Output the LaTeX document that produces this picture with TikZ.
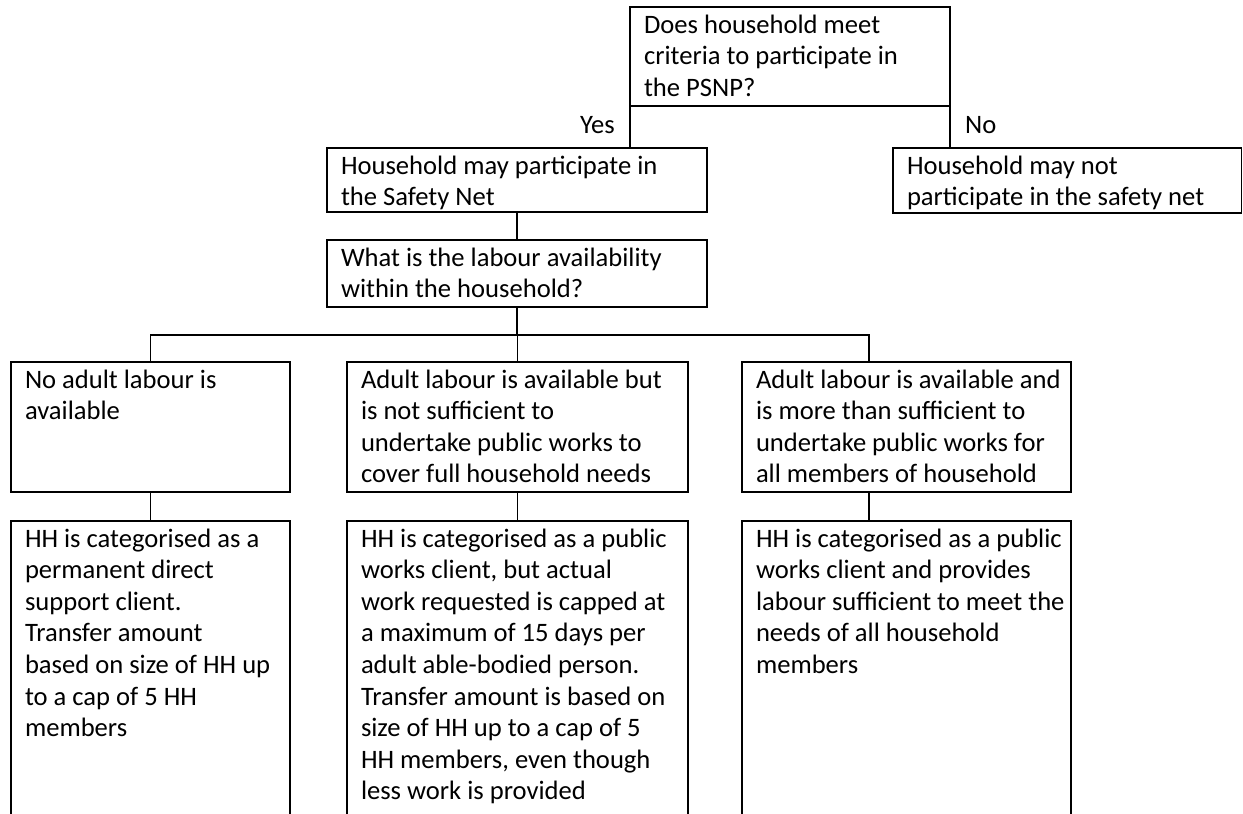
\documentclass[tikz,border=0pt]{standalone}
\usepackage{fontspec}
\setmainfont{Carlito}
\usetikzlibrary{calc}

% text block of a box: width after the left inset, height, lines
% (first baseline 26pt below the top)
\newcommand\celltext[3]{\hspace*{14pt}\parbox[b][#2][t]{#1}{\fontsize{26.6pt}{31.6pt}\selectfont\raggedright\rule{0pt}{26pt}#3}}

\tikzset{
  cell/.style={draw, line width=1.6pt, inner sep=0pt,
    outer sep=0pt, anchor=north west},
  link/.style={draw, line width=1.6pt},
  answer/.style={font=\fontsize{26.6pt}{31.6pt}\selectfont, inner sep=0pt}
}

\begin{document}
\begin{tikzpicture}[x=1pt, y=-1pt]
\clip (0,0) rectangle (1243,814);
\fill[white] (0,0) rectangle (1243,814);

% eligibility question and its two outcomes
\node[cell] (q1) at (630,7) {\celltext{306pt}{99pt}{Does household meet\\criteria to participate in\\the PSNP?}};
\node[cell] (yes) at (327,148) {\celltext{366pt}{64pt}{Household may participate in\\the Safety Net}};
\node[cell] (no) at (893,148) {\celltext{334.5pt}{65pt}{Household may not\\participate in the safety net}};
\node[answer, anchor=base east] (ylab) at (615,133) {Yes};
\node[answer, anchor=base west] (nlab) at (965,133) {No};

% labour question
\node[cell] (lab) at (327,240) {\celltext{366pt}{67pt}{What is the labour availability\\within the household?}};

% labour situations
\node[cell] (a1) at (11,362) {\celltext{265pt}{130pt}{No adult labour is\\available}};
\node[cell] (a2) at (347,362) {\celltext{327pt}{130pt}{Adult labour is available but\\is not sufficient to\\undertake public works to\\cover full household needs}};
\node[cell] (a3) at (742,362) {\celltext{315pt}{130pt}{Adult labour is available and\\is more than sufficient to\\undertake public works for\\all members of household}};

% resulting client categories
\node[cell] (b1) at (11,521) {\celltext{265pt}{312pt}{HH is categorised as a\\permanent direct\\support client.\\Transfer amount\\based on size of HH up\\to a cap of 5 HH\\members}};
\node[cell] (b2) at (347,521) {\celltext{327pt}{312pt}{HH is categorised as a public\\works client, but actual\\work requested is capped at\\a maximum of 15 days per\\adult able-bodied person.\\Transfer amount is based on\\size of HH up to a cap of 5\\HH members, even though\\less work is provided}};
\node[cell] (b3) at (742,521) {\celltext{315pt}{312pt}{HH is categorised as a public\\works client and provides\\labour sufficient to meet the\\needs of all household\\members}};

% connectors
\draw[link] (q1.south west) -- (q1.south west |- yes.north);
\draw[link] (q1.south east) -- (q1.south east |- no.north);
\draw[link] (yes.south -| lab.north) -- (lab.north);

\coordinate (bar) at (0,335);
\coordinate (a3top) at ($(a3.north west)+(127,0)$);
\coordinate (a3bot) at ($(a3.south west)+(127,0)$);
\draw[link] (lab.south) -- (lab.south |- bar);
\draw[link] (a1.north) |- (bar -| a3top) -- (a3top);
\draw[link] (a2.north) -- (a2.north |- bar);

\draw[link] (a1.south) -- (b1.north);
\draw[link] (a2.south) -- (b2.north);
\draw[link] (a3bot) -- (a3bot |- b3.north);
\end{tikzpicture}
\end{document}
